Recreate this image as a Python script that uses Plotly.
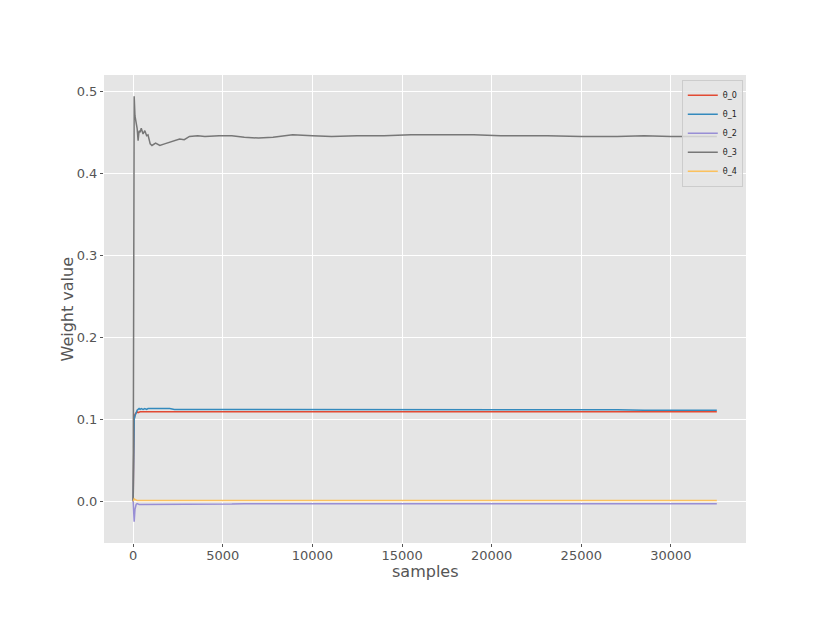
import plotly.graph_objects as go

# sample index of each read-off point
samples = [0, 20, 55, 100, 165, 220, 275, 330, 386, 450,
           551, 650, 750, 827, 950, 1047, 1250, 1488, 1750, 2039,
           2300, 2590, 2850, 3141, 3600, 4000, 4795, 5500, 6200, 7000,
           7800, 8900, 10000, 11070, 12500, 14000, 15500, 17250, 19000, 20500,
           22000, 23100, 25000, 27000, 28500, 30000, 31500, 32561]

theta_0 = [0.0, 0.06, 0.100, 0.106, 0.108, 0.109, 0.108, 0.109, 0.109, 0.109,
           0.109, 0.109, 0.109, 0.109, 0.109, 0.109, 0.1095, 0.1095, 0.1095, 0.1095,
           0.1095, 0.1095, 0.1095, 0.1095, 0.1095, 0.1095, 0.1095, 0.1095, 0.1095, 0.1095,
           0.1095, 0.1095, 0.1095, 0.1095, 0.1095, 0.1095, 0.1095, 0.1095, 0.1095, 0.1095,
           0.1095, 0.1095, 0.1095, 0.109, 0.109, 0.109, 0.109, 0.109]

theta_1 = [0.0, 0.07, 0.100, 0.104, 0.108, 0.111, 0.112, 0.113, 0.112, 0.113,
           0.112, 0.113, 0.112, 0.113, 0.113, 0.113, 0.113, 0.113, 0.113, 0.113,
           0.112, 0.112, 0.112, 0.112, 0.112, 0.112, 0.112, 0.112, 0.112, 0.112,
           0.1115, 0.1115, 0.1115, 0.1115, 0.1115, 0.1115, 0.1115, 0.1115, 0.1115, 0.1115,
           0.1115, 0.1115, 0.1115, 0.1115, 0.111, 0.111, 0.111, 0.111]

theta_2 = [0.0, -0.015, -0.025, -0.010, -0.004, -0.003, -0.004, -0.004, -0.004, -0.004,
           -0.004, -0.004, -0.004, -0.004, -0.004, -0.004, -0.004, -0.004, -0.004, -0.004,
           -0.004, -0.004, -0.004, -0.0035, -0.0035, -0.0035, -0.0035, -0.0035, -0.003, -0.003,
           -0.003, -0.003, -0.003, -0.003, -0.003, -0.003, -0.003, -0.003, -0.003, -0.003,
           -0.003, -0.003, -0.003, -0.003, -0.003, -0.003, -0.003, -0.003]

theta_3 = [0.0, 0.30, 0.494, 0.47, 0.462, 0.455, 0.44, 0.452, 0.45, 0.455,
           0.448, 0.452, 0.446, 0.447, 0.436, 0.434, 0.437, 0.434, 0.436, 0.438,
           0.440, 0.442, 0.441, 0.445, 0.446, 0.445, 0.446, 0.446, 0.444, 0.443,
           0.444, 0.447, 0.446, 0.445, 0.446, 0.446, 0.447, 0.447, 0.447, 0.446,
           0.446, 0.446, 0.445, 0.445, 0.446, 0.445, 0.445, 0.445]

theta_4 = [0.0, 0.002, 0.003, 0.002, 0.001, 0.001, 0.001, 0.001, 0.001, 0.001,
           0.001, 0.001, 0.001, 0.001, 0.001, 0.001, 0.001, 0.001, 0.001, 0.001,
           0.001, 0.001, 0.001, 0.001, 0.001, 0.001, 0.001, 0.001, 0.001, 0.001,
           0.001, 0.001, 0.001, 0.001, 0.001, 0.001, 0.001, 0.001, 0.001, 0.001,
           0.001, 0.001, 0.001, 0.001, 0.001, 0.001, 0.001, 0.001]

series = [
    ('θ_0', theta_0, '#E24A33'),
    ('θ_1', theta_1, '#348ABD'),
    ('θ_2', theta_2, '#988ED5'),
    ('θ_3', theta_3, '#777777'),
    ('θ_4', theta_4, '#FBC15E'),
]

fig = go.Figure()

for name, values, color in series:
    fig.add_trace(go.Scatter(
        x=samples, y=values, name=name, mode='lines',
        line=dict(color=color, width=1.5),
    ))

axis_style = dict(
    showgrid=True, gridcolor='white', gridwidth=1.2,
    zeroline=False, showline=False,
    ticks='outside', ticklen=3, tickcolor='#555555',
    tickfont=dict(size=13, color='#555555'),
)

fig.update_layout(
    width=822, height=615,
    font=dict(family='DejaVu Sans', color='#555555'),
    paper_bgcolor='white',
    plot_bgcolor='#E5E5E5',
    margin=dict(l=96, r=84, t=67, b=80),
    xaxis=dict(range=[-1628, 34189], tickvals=[0, 5000, 10000, 15000, 20000, 25000, 30000],
               tickformat='d', ticklabelstandoff=-3, **axis_style),
    yaxis=dict(range=[-0.051, 0.520], tickvals=[0.0, 0.1, 0.2, 0.3, 0.4, 0.5],
               tickformat='.1f', **axis_style),
    legend=dict(x=0.995, y=0.99, xanchor='right', yanchor='top',
                bgcolor='rgba(229,229,229,0.8)', bordercolor='#CCCCCC', borderwidth=1,
                font=dict(size=8, color='#222222'), itemwidth=30,
                tracegroupgap=0),
    showlegend=True,
)

# axis titles placed as annotations so they sit where the reference has them
fig.add_annotation(text='samples', xref='paper', yref='paper', x=0.5, y=0,
                   yshift=-17, yanchor='top', showarrow=False,
                   font=dict(size=16, color='#555555'))
fig.add_annotation(text='Weight value', xref='paper', yref='paper', x=0, y=0.5,
                   xshift=-26, xanchor='right', textangle=-90, showarrow=False,
                   font=dict(size=16, color='#555555'))

fig.write_html("out.html")
